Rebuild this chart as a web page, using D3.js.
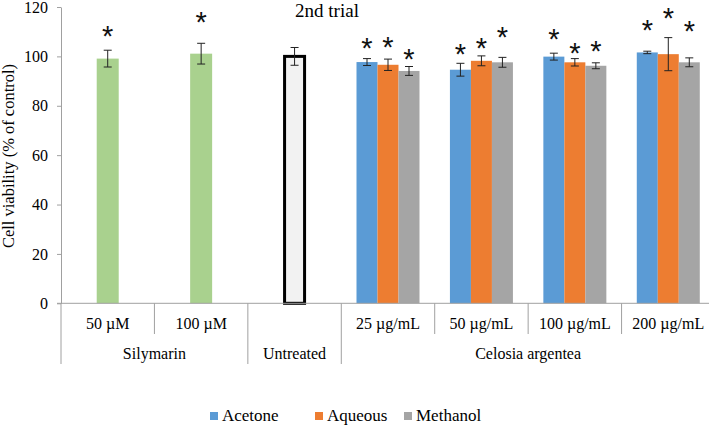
<!DOCTYPE html>
<html>
<head>
<meta charset="utf-8">
<script src="https://cdn.jsdelivr.net/npm/d3@7"></script>
<style>
  body { margin: 0; background: #fff; }
  svg text { font-family: 'Liberation Serif', 'DejaVu Serif', serif; }
</style>
</head>
<body>
<svg id="chart" width="709" height="425"></svg>
<script>
// categories along the x axis
const categories = ["50 µM", "100 µM", "Untreated", "25 µg/mL", "50 µg/mL", "100 µg/mL", "200 µg/mL"];
const groups = [
    {name: "Silymarin", from: 0, to: 1},
    {name: "Untreated", from: 2, to: 2},
    {name: "Celosia argentea", from: 3, to: 6}
];

// silymarin (green) and untreated control
const silymarinCats = ["50 µM", "100 µM"];
const silymarinVals = [99.1, 101.1];
const silymarinErr = [3.4, 4.2];
const silymarinStar = [110.8, 116.5];

const untreatedVal = 100;
const untreatedErr = 3.6;

// extracts
const extractCats = ["25 µg/mL", "50 µg/mL", "100 µg/mL", "200 µg/mL"];
const seriesNames = ["Acetone", "Aqueous", "Methanol"];
const acetoneVals = [97.7, 94.6, 99.9, 101.6];
const acetoneErr = [1.4, 2.6, 1.4, 0.5];
const acetoneStar = [105.7, 103.4, 109.5, 113.3];
const aqueousVals = [96.6, 98.2, 97.6, 100.9];
const aqueousErr = [2.3, 2.0, 1.5, 6.7];
const aqueousStar = [106.1, 105.7, 103.8, 118.0];
const methanolVals = [94.1, 97.6, 96.2, 97.6];
const methanolErr = [1.8, 2.0, 1.2, 1.8];
const methanolStar = [101.4, 110.4, 104.7, 112.9];

const yTicks = [0, 20, 40, 60, 80, 100, 120];

const colors = {Acetone: "#5b9bd5", Aqueous: "#ed7d31", Methanol: "#a5a5a5"};
const green = "#a9d18e";
const axisColor = "#a0a0a0";
const serif = "'Liberation Serif', 'DejaVu Serif', serif";

const svg = d3.select("#chart");

const x = d3.scaleBand().domain(categories).range([61, 715]).padding(0);
const y = d3.scaleLinear().domain([0, 120]).range([303.3, 7]);
const sub = d3.scaleBand().domain(seriesNames).range([-31.5, 31.5]);

// y axis
const yAxis = svg.append("g")
    .attr("transform", "translate(61,0)")
    .call(d3.axisLeft(y).tickValues(yTicks).tickSize(4).tickSizeOuter(0).tickPadding(9));
yAxis.attr("font-family", serif).attr("font-size", 16);
yAxis.select(".domain").attr("stroke", axisColor);
yAxis.selectAll(".tick line").attr("stroke", axisColor);
yAxis.selectAll(".tick text").attr("fill", "#000");

svg.append("text")
    .attr("transform", "translate(14,156) rotate(-90)")
    .attr("text-anchor", "middle")
    .attr("font-size", 16.5)
    .text("Cell viability (% of control)");

// title
svg.append("text")
    .attr("x", 327).attr("y", 17)
    .attr("text-anchor", "middle")
    .attr("font-size", 19)
    .text("2nd trial");

// bars: silymarin
const sily = silymarinCats.map((c, i) => ({cat: c, v: silymarinVals[i], e: silymarinErr[i], s: silymarinStar[i]}));
svg.selectAll(".sily")
    .data(sily)
    .join("rect")
    .attr("x", d => x(d.cat) + x.bandwidth() / 2 - 11)
    .attr("width", 22)
    .attr("y", d => y(d.v))
    .attr("height", d => y(0) - y(d.v))
    .attr("fill", green);

// untreated control bar
svg.append("rect")
    .attr("x", x("Untreated") + x.bandwidth() / 2 - 10)
    .attr("width", 20)
    .attr("y", y(untreatedVal))
    .attr("height", y(0) - y(untreatedVal))
    .attr("fill", "#f2f2f2")
    .attr("stroke", "#000")
    .attr("stroke-width", 3);

// extract bars
const extract = [];
const valsBy = {Acetone: acetoneVals, Aqueous: aqueousVals, Methanol: methanolVals};
const errBy = {Acetone: acetoneErr, Aqueous: aqueousErr, Methanol: methanolErr};
const starBy = {Acetone: acetoneStar, Aqueous: aqueousStar, Methanol: methanolStar};
extractCats.forEach((c, i) => {
    seriesNames.forEach(s => {
        extract.push({cat: c, series: s, v: valsBy[s][i], e: errBy[s][i], s: starBy[s][i]});
    });
});

svg.selectAll(".ext")
    .data(extract)
    .join("rect")
    .attr("x", d => x(d.cat) + x.bandwidth() / 2 + sub(d.series))
    .attr("width", sub.bandwidth())
    .attr("y", d => y(d.v))
    .attr("height", d => y(0) - y(d.v))
    .attr("fill", d => colors[d.series]);

// error bars
const errs = sily.map(d => ({cx: x(d.cat) + x.bandwidth() / 2, v: d.v, e: d.e, s: d.s}))
    .concat([{cx: x("Untreated") + x.bandwidth() / 2, v: untreatedVal, e: untreatedErr, s: null}])
    .concat(extract.map(d => ({cx: x(d.cat) + x.bandwidth() / 2 + sub(d.series) + sub.bandwidth() / 2, v: d.v, e: d.e, s: d.s})));

const eb = svg.append("g").attr("stroke", "#222").attr("stroke-width", 1);
errs.forEach(d => {
    eb.append("line").attr("x1", d.cx).attr("x2", d.cx).attr("y1", y(d.v - d.e)).attr("y2", y(d.v + d.e));
    eb.append("line").attr("x1", d.cx - 4).attr("x2", d.cx + 4).attr("y1", y(d.v - d.e)).attr("y2", y(d.v - d.e));
    eb.append("line").attr("x1", d.cx - 4).attr("x2", d.cx + 4).attr("y1", y(d.v + d.e)).attr("y2", y(d.v + d.e));
});

// significance stars
svg.selectAll(".star")
    .data(errs.filter(d => d.s !== null))
    .join("text")
    .attr("x", d => d.cx)
    .attr("y", d => y(d.s) + 16)
    .attr("text-anchor", "middle")
    .style("font-family", "'Liberation Sans', Arial, sans-serif")
    .attr("font-size", 29)
    .attr("fill", "#111")
    .text("*");

// x axis
svg.append("line")
    .attr("x1", 57).attr("x2", 715)
    .attr("y1", y(0)).attr("y2", y(0))
    .attr("stroke", axisColor);

const xAxis = svg.append("g")
    .attr("transform", `translate(0,${y(0)})`)
    .call(d3.axisBottom(x).tickSize(0).tickPadding(14));
xAxis.attr("font-family", serif).attr("font-size", 16);
xAxis.select(".domain").remove();
xAxis.selectAll(".tick text")
    .attr("fill", "#000")
    .text(d => d === "Untreated" ? "" : d);

// dividers between categories
const groupEdges = new Set(groups.map(g => g.from));
categories.forEach((c, i) => {
    const long = groupEdges.has(i);
    svg.append("line")
        .attr("x1", x(c)).attr("x2", x(c))
        .attr("y1", y(0)).attr("y2", long ? 364 : 334)
        .attr("stroke", axisColor);
});

// group labels
svg.selectAll(".group")
    .data(groups)
    .join("text")
    .attr("x", d => (x(categories[d.from]) + x(categories[d.to]) + x.bandwidth()) / 2)
    .attr("y", 359)
    .attr("text-anchor", "middle")
    .attr("font-size", 16)
    .text(d => d.name);

// legend
const legendX = [210, 315, 404];
const legend = svg.selectAll(".legend")
    .data(seriesNames)
    .join("g")
    .attr("transform", (d, i) => `translate(${legendX[i]},412)`);
legend.append("rect").attr("width", 8).attr("height", 8).attr("fill", d => colors[d]);
legend.append("text")
    .attr("x", 12).attr("y", 9)
    .attr("font-size", 17)
    .text(d => d);
</script>
</body>
</html>
